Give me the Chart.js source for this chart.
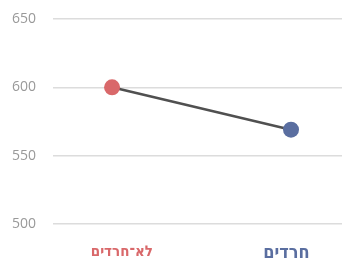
<!DOCTYPE html>
<html>
<head>
<meta charset="utf-8">
<script src="https://cdn.jsdelivr.net/npm/chart.js@4/dist/chart.umd.min.js"></script>
<style>
  html, body { margin: 0; padding: 0; background: #fff; overflow: hidden; }
  canvas { display: block; }
</style>
</head>
<body>
<canvas id="chart" width="342" height="261"></canvas>
<script>
const groups = ['לא־חרדים', 'חרדים'];
const scores = [600, 569];
const groupColors = ['#d9686a', '#5a6ea0'];
const yTicks = [500, 550, 600, 650];

// label styling: the source draws the category names a bit off-centre
const labelSizes = [15, 18];
const labelShift = [0.055, -0.025];

const ctx = document.getElementById('chart').getContext('2d');

new Chart(ctx, {
  type: 'line',
  data: {
    datasets: [{
      data: scores.map((v, i) => ({ x: i, y: v })),
      borderColor: '#505050',
      borderWidth: 2.5,
      pointRadius: 8,
      pointHoverRadius: 8,
      pointBorderWidth: 0,
      pointBackgroundColor: groupColors,
      tension: 0,
      clip: false
    }]
  },
  options: {
    responsive: false,
    animation: false,
    devicePixelRatio: 1,
    layout: { autoPadding: false, padding: { top: 19, left: 10, right: 0, bottom: 2 } },
    plugins: {
      legend: { display: false },
      tooltip: { enabled: false }
    },
    scales: {
      x: {
        type: 'linear',
        min: -0.33,
        max: 1.285,
        afterBuildTicks: axis => {
          axis.ticks = groups.map((g, i) => ({ value: i + labelShift[i] }));
        },
        afterFit: axis => {
          axis.height = 35;
          axis.paddingLeft = 0;
          axis.paddingRight = 0;
        },
        grid: { display: false },
        border: { display: false },
        ticks: {
          padding: 11,
          callback: (value, index) => groups[index],
          color: c => groupColors[c.index],
          font: c => ({ family: 'DejaVu Sans Condensed', weight: 'bold', size: labelSizes[c.index] || 15 })
        }
      },
      y: {
        min: 500,
        max: 650,
        afterBuildTicks: axis => { axis.ticks = yTicks.map(v => ({ value: v })); },
        afterFit: axis => {
          axis.width = 43;
          axis.paddingTop = 0;
          axis.paddingBottom = 0;
        },
        grid: { color: '#dcdcdc', lineWidth: 1.5, drawTicks: false },
        border: { display: false },
        ticks: {
          padding: 17,
          color: '#999999',
          font: { family: 'Open Sans', size: 14 }
        }
      }
    }
  }
});
</script>
</body>
</html>
